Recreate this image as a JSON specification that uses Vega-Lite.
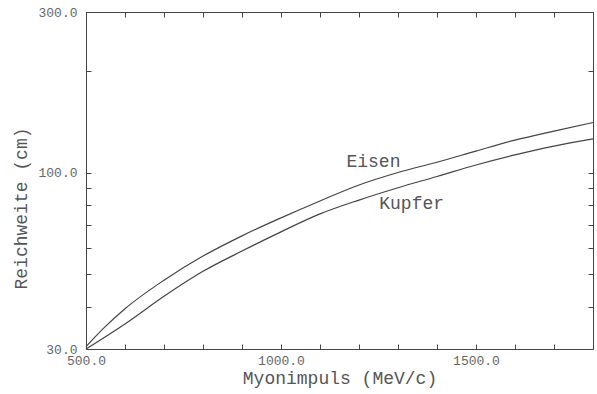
{
  "$schema": "https://vega.github.io/schema/vega-lite/v6.json",
  "width": 507,
  "height": 337,
  "autosize": "none",
  "padding": {"left": 86, "top": 12, "right": 4, "bottom": 45},
  "background": "white",
  "config": {
    "view": {"stroke": null},
    "font": "Liberation Mono",
    "axis": {
      "grid": false,
      "domainColor": "#444",
      "tickColor": "#444",
      "labelFont": "Liberation Mono",
      "labelFontSize": 13,
      "labelColor": "#666",
      "titleFont": "Liberation Mono",
      "titleFontSize": 18,
      "titleFontWeight": "normal",
      "titleColor": "#555",
      "labelFlush": false,
      "labelOverlap": false
    }
  },
  "datasets": {
    "curves": [
      {"p": 500, "r": 30.5, "material": "Eisen"},
      {"p": 550, "r": 35.0, "material": "Eisen"},
      {"p": 600, "r": 39.5, "material": "Eisen"},
      {"p": 700, "r": 48.0, "material": "Eisen"},
      {"p": 800, "r": 56.6, "material": "Eisen"},
      {"p": 900, "r": 65.0, "material": "Eisen"},
      {"p": 1000, "r": 73.5, "material": "Eisen"},
      {"p": 1100, "r": 82.5, "material": "Eisen"},
      {"p": 1200, "r": 92.0, "material": "Eisen"},
      {"p": 1300, "r": 100.2, "material": "Eisen"},
      {"p": 1400, "r": 107.5, "material": "Eisen"},
      {"p": 1500, "r": 116.0, "material": "Eisen"},
      {"p": 1600, "r": 125.0, "material": "Eisen"},
      {"p": 1700, "r": 133.0, "material": "Eisen"},
      {"p": 1800, "r": 141.0, "material": "Eisen"},
      {"p": 500, "r": 30.0, "material": "Kupfer"},
      {"p": 600, "r": 35.6, "material": "Kupfer"},
      {"p": 700, "r": 43.0, "material": "Kupfer"},
      {"p": 800, "r": 51.0, "material": "Kupfer"},
      {"p": 900, "r": 58.6, "material": "Kupfer"},
      {"p": 1000, "r": 66.8, "material": "Kupfer"},
      {"p": 1100, "r": 75.5, "material": "Kupfer"},
      {"p": 1200, "r": 83.0, "material": "Kupfer"},
      {"p": 1300, "r": 90.3, "material": "Kupfer"},
      {"p": 1400, "r": 97.5, "material": "Kupfer"},
      {"p": 1500, "r": 105.5, "material": "Kupfer"},
      {"p": 1600, "r": 113.0, "material": "Kupfer"},
      {"p": 1700, "r": 120.0, "material": "Kupfer"},
      {"p": 1800, "r": 126.0, "material": "Kupfer"}
    ],
    "labels": [
      {"p": 1237, "r": 108, "text": "Eisen"},
      {"p": 1335, "r": 80.6, "text": "Kupfer"}
    ]
  },
  "layer": [
    {
      "data": {"name": "curves"},
      "mark": {"type": "line", "color": "#444", "strokeWidth": 1.2, "interpolate": "monotone"},
      "encoding": {
        "x": {
          "field": "p", "type": "quantitative",
          "scale": {"domain": [500, 1800], "nice": false},
          "axis": {
            "orient": "bottom",
            "title": "Myonimpuls (MeV/c)",
            "values": [500, 600, 700, 800, 900, 1000, 1100, 1200, 1300, 1400, 1500, 1600, 1700, 1800],
            "tickSize": -5,
            "labelExpr": "datum.value % 500 === 0 && datum.value < 1800 ? format(datum.value, '.1f') : ''",
            "labelPadding": 10,
            "titlePadding": 2
          }
        },
        "y": {
          "field": "r", "type": "quantitative",
          "scale": {"type": "log", "domain": [30, 300], "nice": false},
          "axis": {
            "orient": "left",
            "title": "Reichweite (cm)",
            "values": [30, 40, 50, 60, 70, 80, 90, 100, 200, 300],
            "tickSize": -5,
            "labelExpr": "indexof([30, 100, 300], datum.value) >= 0 ? format(datum.value, '.1f') : ''",
            "labelPadding": 14,
            "titlePadding": 7,
            "titleY": 196
          }
        },
        "detail": {"field": "material"}
      }
    },
    {
      "data": {"name": "labels"},
      "mark": {"type": "text", "font": "Liberation Mono", "fontSize": 18, "color": "#555"},
      "encoding": {
        "x": {
          "field": "p", "type": "quantitative",
          "axis": {
            "orient": "top",
            "title": null,
            "labels": false,
            "values": [500, 600, 700, 800, 900, 1000, 1100, 1200, 1300, 1400, 1500, 1600, 1700, 1800],
            "tickSize": -5
          }
        },
        "y": {
          "field": "r", "type": "quantitative",
          "axis": {
            "orient": "right",
            "title": null,
            "labels": false,
            "values": [30, 40, 50, 60, 70, 80, 90, 100, 200, 300],
            "tickSize": -5
          }
        },
        "text": {"field": "text"}
      }
    }
  ],
  "resolve": {"axis": {"x": "independent", "y": "independent"}}
}
